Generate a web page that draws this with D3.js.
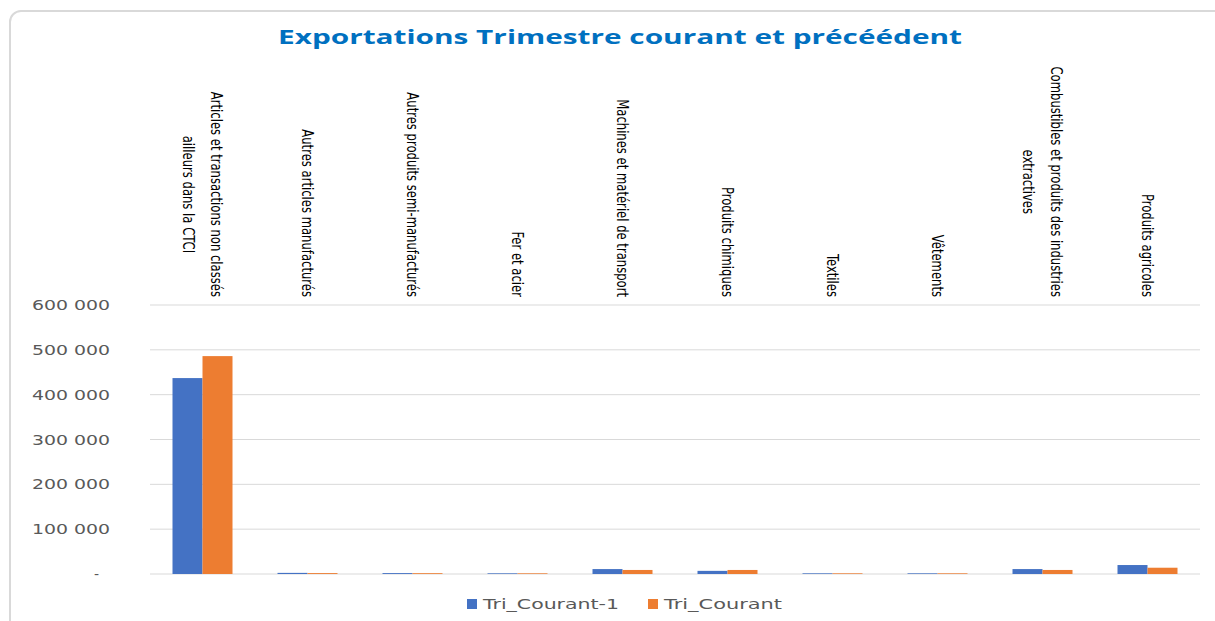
<!DOCTYPE html>
<html>
<head>
<meta charset="utf-8">
<script src="https://cdn.jsdelivr.net/npm/d3@7"></script>
<style>
    body { margin: 0; background: #fff; }
    svg { display: block; }
</style>
</head>
<body>
<div id="chart"></div>
<script>
const categories = [
    ["Articles et transactions non classés", "ailleurs dans la CTCI"],
    ["Autres articles manufacturés"],
    ["Autres produits semi-manufacturés"],
    ["Fer et acier"],
    ["Machines et matériel de transport"],
    ["Produits chimiques"],
    ["Textiles"],
    ["Vêtements"],
    ["Combustibles et produits des industries", "extractives"],
    ["Produits agricoles"]
];
const seriesNames = ["Tri_Courant-1", "Tri_Courant"];
const triCourantPrev = [437000, 2500, 2000, 1500, 11000, 7000, 1500, 1500, 11000, 20000];
const triCourant = [486000, 2000, 1800, 1500, 9000, 9000, 1500, 1500, 9000, 14000];
const yTicks = [0, 100000, 200000, 300000, 400000, 500000, 600000];

const w = 1215,
    h = 621;

const plot = {left: 150, right: 1200, top: 305, bottom: 574};

const colors = {"Tri_Courant-1": "#4472c4", "Tri_Courant": "#ed7d31"};

let svg = d3.select("#chart")
    .append("svg")
    .attr("width", w)
    .attr("height", h);

// chart frame
svg.append("rect")
    .attr("x", 10).attr("y", 11)
    .attr("width", w).attr("height", h)
    .attr("rx", 11)
    .style("fill", "none")
    .style("stroke", "#d9d9d9")
    .style("stroke-width", 2);

// title
svg.append("text")
    .attr("x", 620).attr("y", 44)
    .attr("text-anchor", "middle")
    .attr("textLength", 684)
    .attr("lengthAdjust", "spacingAndGlyphs")
    .style("font-family", "'Open Sans', sans-serif")
    .style("font-weight", "bold")
    .style("font-size", "20px")
    .style("fill", "#0070c0")
    .text("Exportations Trimestre courant et précéédent");

let keys = categories.map(c => c.join(" "));
let data = keys.map((k, i) => ({key: k, values: [triCourantPrev[i], triCourant[i]]}));

let x0 = d3.scaleBand()
    .domain(keys)
    .range([plot.left, plot.right])
    .padding(0);

let x1 = d3.scaleBand()
    .domain(seriesNames)
    .range([0, x0.bandwidth()])
    .paddingInner(0)
    .paddingOuter(0.75);

let y = d3.scaleLinear()
    .domain([0, 600000])
    .range([plot.bottom, plot.top]);

// gridlines
svg.append("g")
    .selectAll("line")
    .data(yTicks)
    .enter().append("line")
    .attr("x1", plot.left).attr("x2", plot.right)
    .attr("y1", d => y(d)).attr("y2", d => y(d))
    .style("stroke", "#d9d9d9")
    .style("stroke-width", 1);

// y labels
let fmt = d => d === 0 ? "-" : d3.format(",")(d).replace(/,/g, " ");
svg.append("g")
    .selectAll("text")
    .data(yTicks)
    .enter().append("text")
    .attr("x", d => d === 0 ? 99 : 110)
    .attr("y", d => y(d) + 5)
    .attr("text-anchor", "end")
    .attr("textLength", d => d === 0 ? null : 78)
    .attr("lengthAdjust", "spacingAndGlyphs")
    .style("font-family", "'DejaVu Sans', sans-serif")
    .style("font-size", "14px")
    .style("fill", "#595959")
    .text(fmt);

// bars
let groups = svg.append("g")
    .selectAll("g")
    .data(data)
    .enter().append("g")
    .attr("transform", d => "translate(" + x0(d.key) + ",0)");

groups.selectAll("rect")
    .data(d => d.values.map((v, i) => ({name: seriesNames[i], value: v})))
    .enter().append("rect")
    .attr("x", d => x1(d.name))
    .attr("width", x1.bandwidth())
    .attr("y", d => y(d.value))
    .attr("height", d => y(0) - y(d.value))
    .style("fill", d => colors[d.name]);

// category labels, rotated, bottom aligned at y = 297
let labelFont = "'Liberation Sans Narrow', 'DejaVu Sans Condensed', sans-serif";
categories.forEach(function (lines, i) {
    let cx = x0(keys[i]) + x0.bandwidth() / 2;
    let lineH = 28;
    let g = svg.append("g");
    let texts = lines.map(function (l, j) {
        let t = g.append("text")
            .attr("dy", "0.35em")
            .attr("text-anchor", "middle")
            .attr("lengthAdjust", "spacingAndGlyphs")
            .style("font-family", labelFont)
            .style("font-size", "14.5px")
            .style("fill", "#000")
            .text(l);
        // squeeze to the narrow look of the original labels
        let len = t.node().getComputedTextLength() * 0.89;
        t.attr("textLength", len).style("font-size", "16px");
        t.datum(len);
        return t;
    });
    let maxLen = d3.max(texts, t => t.datum());
    let yCenter = 297 - maxLen / 2;
    let offset0 = (lines.length - 1) * lineH / 2;
    texts.forEach(function (t, j) {
        let tx = cx + offset0 - j * lineH;
        t.attr("transform", "translate(" + tx + "," + yCenter + ") rotate(90)");
    });
});

// legend
let legend = svg.append("g")
    .selectAll("g")
    .data(seriesNames)
    .enter().append("g")
    .attr("transform", (d, i) => "translate(" + [467, 648][i] + ",599)");

legend.append("rect")
    .attr("width", 10).attr("height", 10)
    .style("fill", d => colors[d]);

legend.append("text")
    .attr("x", 16).attr("y", 10)
    .attr("textLength", (d, i) => [136, 118][i])
    .attr("lengthAdjust", "spacingAndGlyphs")
    .style("font-family", "'DejaVu Sans', sans-serif")
    .style("font-size", "14px")
    .style("fill", "#595959")
    .text(d => d);
</script>
</body>
</html>
